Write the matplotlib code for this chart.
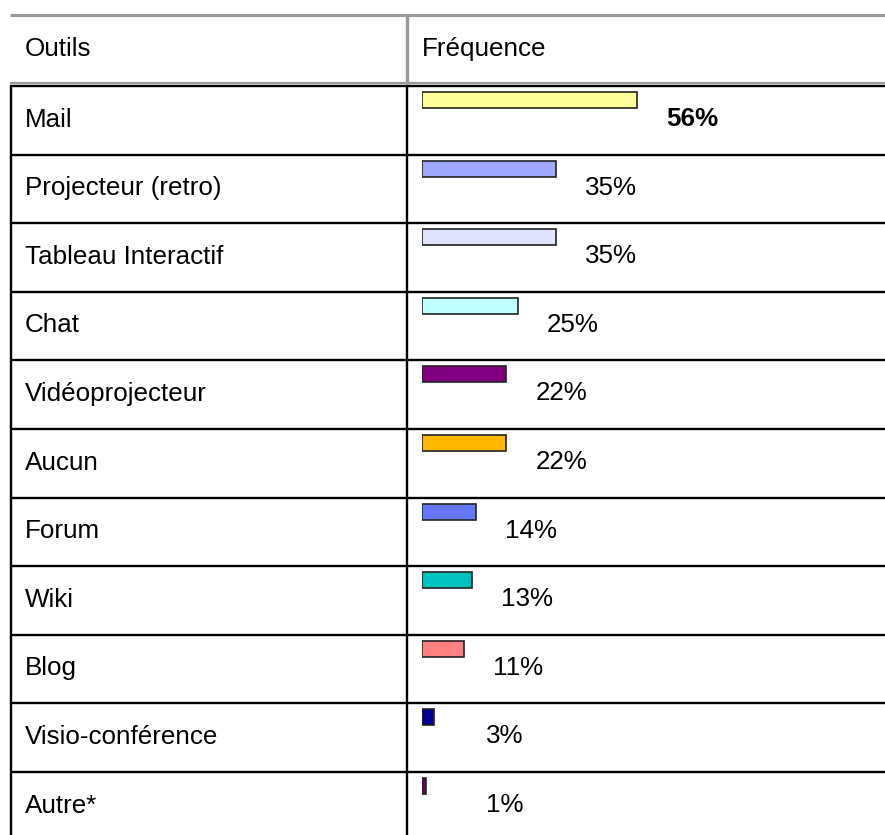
import matplotlib.pyplot as plt
from matplotlib.transforms import blended_transform_factory

outils = ['Mail', 'Projecteur (retro)', 'Tableau Interactif', 'Chat',
          'Vidéoprojecteur', 'Aucun', 'Forum', 'Wiki', 'Blog',
          'Visio-conférence', 'Autre*']
frequence = [56, 35, 35, 25, 22, 22, 14, 13, 11, 3, 1]
couleurs = ['#FFFF99', '#A0A8FF', '#E0E4FF', '#C0FFFF', '#800080', '#FFB800',
            '#6677FF', '#00C0C0', '#FF8080', '#000099', '#660066']

plt.rcParams['font.family'] = ['Liberation Sans', 'DejaVu Sans']
FS = 18.7

W, H = 885, 835
fig = plt.figure(figsize=(W / 100, H / 100), dpi=100)

# fond en coordonnées pixels pour le tableau
bg = fig.add_axes([0, 0, 1, 1])
bg.set_xlim(0, W)
bg.set_ylim(H, 0)
bg.axis('off')

# axe des barres : 0 % à x=422 px, 3.84 px par %, lignes de 68.6 px
top, row_h = 86, 68.6
x0, px_pct = 422, 3.84
bar_ax = fig.add_axes([x0 / W, 0, (W - x0) / W, (H - top) / H])
bar_ax.set_xlim(0, (W - x0) / px_pct)
bar_ax.set_ylim((H - top) / row_h, 0)
bar_ax.axis('off')

trans = blended_transform_factory(bg.transData, bar_ax.transData)

# en-tête
gris = '#999999'
bg.plot([10, W], [15, 15], color=gris, lw=2.2, solid_capstyle='butt')
bg.plot([10, W], [82.5, 82.5], color=gris, lw=1.6, solid_capstyle='butt')
bg.plot([406.5, 406.5], [14, 84], color=gris, lw=2.4, solid_capstyle='butt')
bg.text(25, 49, 'Outils', fontsize=FS, va='center', ha='left')
bg.text(422, 49, 'Fréquence', fontsize=FS, va='center', ha='left')

# grille du tableau
n = len(outils)
for i in range(n + 1):
    bg.plot([10, W], [i, i], color='black', lw=1.7, transform=trans,
            solid_capstyle='butt')
bg.plot([11, 11], [85, H], color='black', lw=1.7, solid_capstyle='butt')
bg.plot([407, 407], [85, H], color='black', lw=1.7, solid_capstyle='butt')

# barres
rows = list(range(n))
bar_ax.barh([r + 0.0875 for r in rows], frequence, height=0.233,
            align='edge', color=couleurs, edgecolor='#222222', linewidth=1.2)

for r, nom, v in zip(rows, outils, frequence):
    bg.text(25, r + 0.49, nom, fontsize=FS, va='center', ha='left',
            transform=trans)
    bar_ax.text(max(v, 9.2) + 7.5, r + 0.48, f'{v}%', fontsize=FS,
                va='center', ha='left',
                fontweight='bold' if r == 0 else 'normal')

fig.savefig('out.png', dpi=100)
